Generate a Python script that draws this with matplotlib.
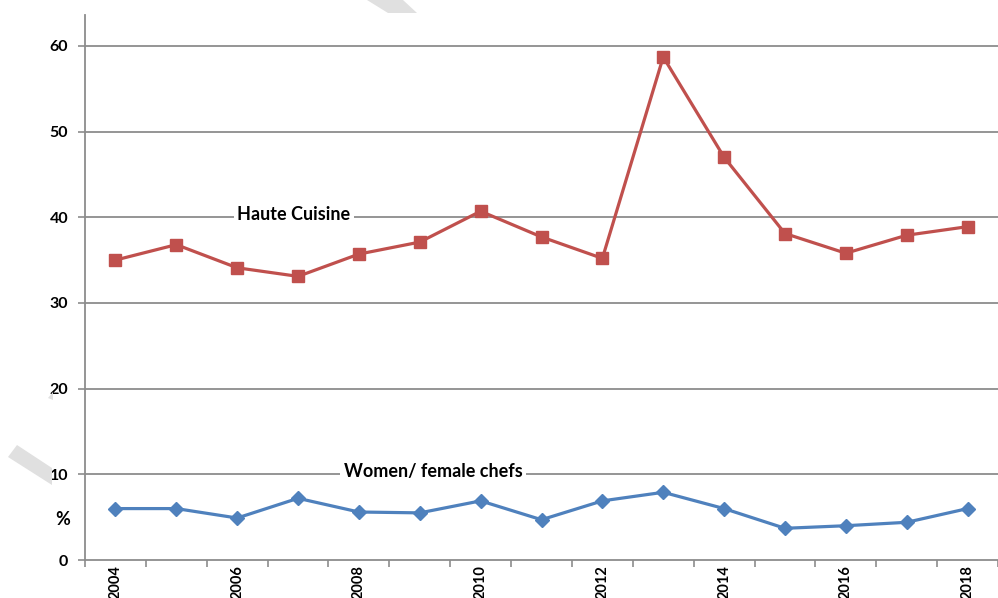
import numpy as np
import matplotlib
matplotlib.use("Agg")
import matplotlib.pyplot as plt
from matplotlib.patches import Polygon

plt.rcParams["font.family"] = ["Lato", "DejaVu Sans"]
plt.rcParams["font.weight"] = "bold"

# data
years = list(range(2004, 2019))
haute_cuisine = [35.0, 36.8, 34.1, 33.1, 35.7, 37.1, 40.7, 37.7, 35.2, 58.7, 47.0, 38.1, 35.8, 37.9, 38.9]
women_chefs = [6.0, 6.0, 4.9, 7.2, 5.6, 5.5, 6.9, 4.7, 6.9, 7.9, 6.0, 3.7, 4.0, 4.4, 6.0]
yticks = [0, 10, 20, 30, 40, 50, 60]

red = "#C0504D"
blue = "#4F81BD"
grey = "#8C8C8C"

fig = plt.figure(figsize=(9.98, 5.98), dpi=100)
ax = fig.add_axes([85 / 998, 1 - 560 / 598, 913 / 998, 545 / 598])

x = np.arange(len(years))
ax.plot(x, haute_cuisine, color=red, lw=2.3, marker="s", ms=8, zorder=4)
ax.plot(x, women_chefs, color=blue, lw=2.3, marker="D", ms=7, zorder=4)

ax.set_xlim(-0.5, -0.5 + 913 / 61.5)
ax.set_ylim(0, 63.6)

# grid lines
ax.set_yticks(yticks)
for v in yticks[1:]:
    ax.axhline(v, color=grey, lw=1.3, zorder=1)

for s in ["top", "right"]:
    ax.spines[s].set_visible(False)
for s in ["left", "bottom"]:
    ax.spines[s].set_color(grey)
    ax.spines[s].set_linewidth(1.3)

ax.tick_params(axis="y", length=5, width=1.2, color=grey, pad=7, labelsize=11.5)
ax.set_yticklabels([str(v) for v in yticks], fontweight="bold")

# category ticks between years, labels on even years
ax.set_xticks(x[::2])
ax.set_xticklabels([str(y) for y in years[::2]], rotation=90, fontsize=10.5, fontweight="bold")
ax.set_xticks(np.arange(-0.5, len(years), 1.0), minor=True)
ax.tick_params(axis="x", which="major", length=0, pad=4)
ax.tick_params(axis="x", which="minor", length=5, width=1.2, color=grey)

ax.text(-0.0165, 4.7, "%", transform=ax.get_yaxis_transform(), ha="right", va="center",
        fontsize=13, fontweight="bold")

box = dict(facecolor="white", edgecolor="none", pad=2.5)
ax.text(2.93, 40.3, "Haute Cuisine", ha="center", va="center", fontsize=13,
        fontweight="bold", bbox=box, zorder=3)
ax.text(5.22, 10.35, "Women/ female chefs", ha="center", va="center", fontsize=13,
        fontweight="bold", bbox=box, zorder=3)

# faint watermark stripes
def px(pts):
    return [(a / 998, 1 - b / 598) for a, b in pts]

for pts in ([(367, 0), (403, 0), (417, 13), (388, 13)],
            [(8, 457), (17, 445), (52, 468), (52, 485)],
            [(48, 398), (53, 392), (53, 400)]):
    fig.patches.append(Polygon(px(pts), closed=True, transform=fig.transFigure,
                               facecolor="#E0E0E0", edgecolor="none", zorder=0))

fig.savefig("out.png", dpi=100)
